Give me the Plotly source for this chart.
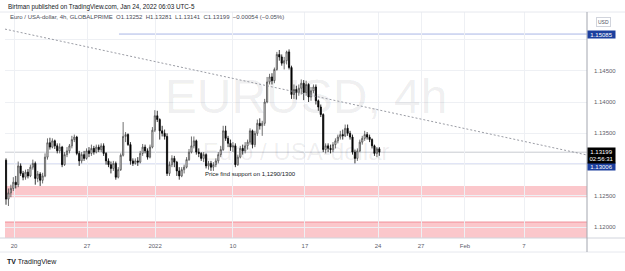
import plotly.graph_objects as go

# ---------------- data (EURUSD 4h, GLOBALPRIME) ----------------
opens = [1.1307,1.1245,1.1255,1.1262,1.1272,1.1268,1.1298,1.1286,1.1280,1.1288,
         1.1282,1.1296,1.1302,1.1278,1.1285,1.1275,1.1282,1.1312,1.1335,1.1328,
         1.1338,1.1330,1.1322,1.1328,1.1300,1.1316,1.1322,1.1330,1.1340,1.1344,
         1.1318,1.1306,1.1316,1.1310,1.1322,1.1318,1.1326,1.1320,1.1328,1.1324,
         1.1330,1.1318,1.1306,1.1300,1.1294,1.1302,1.1280,1.1292,1.1315,1.1345,
         1.1348,1.1332,1.1306,1.1302,1.1306,1.1304,1.1318,1.1328,1.1322,1.1312,
         1.1328,1.1355,1.1378,1.1372,1.1354,1.1350,1.1345,1.1286,1.1300,1.1310,
         1.1304,1.1290,1.1282,1.1292,1.1296,1.1308,1.1320,1.1330,1.1338,1.1320,
         1.1318,1.1310,1.1316,1.1298,1.1302,1.1296,1.1300,1.1306,1.1316,1.1324,
         1.1354,1.1342,1.1334,1.1328,1.1330,1.1300,1.1312,1.1326,1.1322,1.1330,
         1.1336,1.1354,1.1332,1.1350,1.1366,1.1362,1.1366,1.1400,1.1432,1.1440,
         1.1434,1.1452,1.1476,1.1472,1.1462,1.1466,1.1480,1.1455,1.1412,1.1420,
         1.1415,1.1422,1.1430,1.1415,1.1428,1.1408,1.1418,1.1424,1.1402,1.1392,
         1.1380,1.1324,1.1330,1.1326,1.1324,1.1332,1.1338,1.1344,1.1348,1.1346,
         1.1358,1.1350,1.1344,1.1320,1.1310,1.1322,1.1336,1.1342,1.1348,1.1344,
         1.1340,1.1330,1.1318,1.13252]
highs = [1.1310,1.1262,1.1268,1.1280,1.1282,1.1305,1.1302,1.1290,1.1292,1.1293,
         1.1300,1.1308,1.1305,1.1290,1.1288,1.1287,1.1318,1.1342,1.1343,1.1342,
         1.1340,1.1334,1.1334,1.1330,1.1320,1.1328,1.1333,1.1346,1.1348,1.1346,
         1.1322,1.1320,1.1322,1.1326,1.1328,1.1332,1.1330,1.1332,1.1332,1.1334,
         1.1334,1.1320,1.1310,1.1305,1.1306,1.1305,1.1296,1.1318,1.1368,1.1352,
         1.1350,1.1336,1.1310,1.1310,1.1312,1.1322,1.1333,1.1332,1.1326,1.1332,
         1.1360,1.1387,1.1386,1.1374,1.1362,1.1356,1.1350,1.1305,1.1315,1.1314,
         1.1306,1.1296,1.1296,1.1300,1.1312,1.1325,1.1345,1.1345,1.1340,1.1326,
         1.1320,1.1320,1.1318,1.1306,1.1306,1.1304,1.1310,1.1320,1.1330,1.1362,
         1.1362,1.1346,1.1340,1.1336,1.1334,1.1316,1.1330,1.1332,1.1336,1.1340,
         1.1358,1.1356,1.1354,1.1372,1.1374,1.1370,1.1405,1.1440,1.1445,1.1446,
         1.1455,1.1480,1.1483,1.1476,1.1472,1.1482,1.1484,1.1458,1.1428,1.1426,
         1.1428,1.1436,1.1435,1.1434,1.1430,1.1424,1.1428,1.1428,1.1404,1.1396,
         1.1382,1.1334,1.1334,1.1332,1.1336,1.1342,1.1348,1.1354,1.1356,1.1364,
         1.1364,1.1354,1.1348,1.1324,1.1326,1.1340,1.1346,1.1354,1.1352,1.1348,
         1.1342,1.1332,1.1328,1.13281]
lows = [1.1236,1.1234,1.1248,1.1258,1.1262,1.1264,1.1282,1.1275,1.1276,1.1278,
        1.1280,1.1292,1.1268,1.1272,1.1266,1.1270,1.1280,1.1308,1.1324,1.1326,
        1.1325,1.1318,1.1318,1.1296,1.1298,1.1312,1.1318,1.1326,1.1336,1.1315,
        1.1298,1.1302,1.1306,1.1308,1.1312,1.1314,1.1316,1.1318,1.1320,1.1320,
        1.1314,1.1300,1.1296,1.1286,1.1290,1.1276,1.1278,1.1290,1.1313,1.1336,
        1.1330,1.1300,1.1298,1.1300,1.1298,1.1302,1.1314,1.1318,1.1308,1.1310,
        1.1326,1.1352,1.1368,1.1340,1.1345,1.1340,1.1282,1.1282,1.1296,1.1296,
        1.1282,1.1276,1.1280,1.1286,1.1294,1.1306,1.1318,1.1326,1.1316,1.1312,
        1.1306,1.1304,1.1294,1.1292,1.1290,1.1290,1.1296,1.1302,1.1312,1.1322,
        1.1338,1.1328,1.1322,1.1320,1.1296,1.1298,1.1310,1.1316,1.1318,1.1324,
        1.1332,1.1326,1.1328,1.1346,1.1356,1.1346,1.1362,1.1398,1.1428,1.1428,
        1.1430,1.1450,1.1466,1.1458,1.1452,1.1460,1.1452,1.1405,1.1405,1.1404,
        1.1410,1.1412,1.1403,1.1410,1.1400,1.1402,1.1414,1.1396,1.1386,1.1376,
        1.1320,1.1318,1.1320,1.1318,1.1320,1.1326,1.1334,1.1340,1.1340,1.1344,
        1.1346,1.1340,1.1316,1.1302,1.1306,1.1320,1.1332,1.1338,1.1340,1.1336,
        1.1326,1.1314,1.1312,1.13141]
closes = [1.1245,1.1255,1.1262,1.1272,1.1268,1.1298,1.1286,1.1280,1.1288,1.1282,
          1.1296,1.1302,1.1278,1.1285,1.1275,1.1282,1.1312,1.1335,1.1328,1.1338,
          1.1330,1.1322,1.1328,1.1300,1.1316,1.1322,1.1330,1.1340,1.1344,1.1318,
          1.1306,1.1316,1.1310,1.1322,1.1318,1.1326,1.1320,1.1328,1.1324,1.1330,
          1.1318,1.1306,1.1300,1.1294,1.1302,1.1280,1.1292,1.1315,1.1345,1.1348,
          1.1332,1.1306,1.1302,1.1306,1.1304,1.1318,1.1328,1.1322,1.1312,1.1328,
          1.1355,1.1378,1.1372,1.1354,1.1350,1.1345,1.1286,1.1300,1.1310,1.1304,
          1.1290,1.1282,1.1292,1.1296,1.1308,1.1320,1.1330,1.1338,1.1320,1.1318,
          1.1310,1.1316,1.1298,1.1302,1.1296,1.1300,1.1306,1.1316,1.1324,1.1354,
          1.1342,1.1334,1.1328,1.1330,1.1300,1.1312,1.1326,1.1322,1.1330,1.1336,
          1.1354,1.1332,1.1350,1.1366,1.1362,1.1366,1.1400,1.1432,1.1440,1.1434,
          1.1452,1.1476,1.1472,1.1462,1.1466,1.1480,1.1455,1.1412,1.1420,1.1415,
          1.1422,1.1430,1.1415,1.1428,1.1408,1.1418,1.1424,1.1402,1.1392,1.1380,
          1.1324,1.1330,1.1326,1.1324,1.1332,1.1338,1.1344,1.1348,1.1346,1.1358,
          1.1350,1.1344,1.1320,1.1310,1.1322,1.1336,1.1342,1.1348,1.1344,1.1340,
          1.1330,1.1318,1.13252,1.13199]

# date ticks in bar-index units (weekends skipped like TradingView)
tick_pos = [3.3, 33.2, 61.1, 93.0, 122.5, 152.5, 170.1, 188.1, 212.3]
tick_labels = ["20", "27", "2022", "10", "17", "24", "27", "Feb", "7"]

price_ticks = [1.12, 1.125, 1.13, 1.135, 1.14, 1.145, 1.15]
price_tick_labels = ["1.12000", "1.12500", "", "1.13500", "1.14000", "1.14500", ""]

zone_upper = (1.1248, 1.1266)
zone_lower = (1.1150, 1.12085)
level_top = 1.15085
level_support = 1.13006
last_close = 1.13199
trend_start = (-0.41, 1.15164)
trend_end = (238.1, 1.13154)
level_top_start = 46.3
note_pos = (80.7, 1.12851)

x_range = [-0.41, 238.1]
y_range = [1.11829, 1.15437]

FONT = "Liberation Sans, Arial, sans-serif"

bars = list(range(len(closes)))

fig = go.Figure()

# watermark (drawn first so candles sit on top)
fig.add_trace(go.Scatter(
    x=[123.0, 118.9], y=[1.14016, 1.13171], mode="text",
    text=["EURUSD, 4h", "Euro / USA-dollar"],
    textfont=dict(size=[48, 24], color="rgba(19,23,34,0.075)", family=FONT),
    hoverinfo="skip", showlegend=False))

fig.add_trace(go.Candlestick(
    x=bars, open=opens, high=highs, low=lows, close=closes,
    increasing=dict(fillcolor="#ffffff", line=dict(color="#4a4a4a", width=0.8)),
    decreasing=dict(fillcolor="#000000", line=dict(color="#000000", width=0.8)),
    whiskerwidth=0, showlegend=False, hoverinfo="skip"))

shapes = []
pink = "rgba(242,54,69,0.28)"
shapes.append(dict(type="rect", xref="paper", yref="y", x0=0, x1=1,
                   y0=zone_upper[0], y1=zone_upper[1], fillcolor=pink,
                   line=dict(width=0), layer="below"))
shapes.append(dict(type="rect", xref="paper", yref="y", x0=0, x1=1,
                   y0=zone_lower[0], y1=zone_lower[1], fillcolor=pink,
                   line=dict(width=0), layer="below"))
shapes.append(dict(type="line", xref="paper", yref="y", x0=0, x1=1,
                   y0=zone_lower[1], y1=zone_lower[1],
                   line=dict(color="rgba(230,70,85,0.5)", width=1), layer="below"))
shapes.append(dict(type="line", xref="x", yref="y", x0=level_top_start, x1=x_range[1],
                   y0=level_top, y1=level_top,
                   line=dict(color="#a9b7e6", width=1), layer="below"))
shapes.append(dict(type="line", xref="paper", yref="y", x0=0, x1=1,
                   y0=last_close, y1=last_close,
                   line=dict(color="#c9cbd1", width=1), layer="below"))
shapes.append(dict(type="line", xref="paper", yref="y", x0=0, x1=1,
                   y0=level_support, y1=level_support,
                   line=dict(color="#7d8ed6", width=1), layer="below"))
shapes.append(dict(type="line", xref="x", yref="y",
                   x0=trend_start[0], y0=trend_start[1], x1=trend_end[0], y1=trend_end[1],
                   line=dict(color="#8e919a", width=0.9, dash="2px,2px")))

# chart frame
L = -5 / 582
R = 620 / 582
B = -14 / 226
shapes.append(dict(type="line", xref="paper", yref="paper", x0=L, x1=R, y0=0, y1=0,
                   line=dict(color="#d1d4dc", width=1)))
shapes.append(dict(type="line", xref="paper", yref="paper", x0=L, x1=R, y0=B, y1=B,
                   line=dict(color="#e6e8ee", width=1)))
shapes.append(dict(type="line", xref="paper", yref="paper", x0=L, x1=R, y0=1, y1=1,
                   line=dict(color="#e6e8ee", width=1)))
shapes.append(dict(type="line", xref="paper", yref="paper", x0=1, x1=1, y0=B, y1=1,
                   line=dict(color="#a3a6af", width=1)))

ann = []
ann.append(dict(xref="paper", yref="paper", x=1 / 582, y=(238 - 7) / 226,
                xanchor="left", yanchor="middle", showarrow=False,
                text="Birtman published on TradingView.com, Jan 24, 2022 06:03 UTC-5",
                font=dict(size=6.3, color="#131722", family=FONT)))
ann.append(dict(xref="paper", yref="paper", x=3 / 582, y=(238 - 17.5) / 226,
                xanchor="left", yanchor="middle", showarrow=False,
                text="Euro / USA-dollar, 4h, GLOBALPRIME  O1.13252  H1.13281  L1.13141  C1.13199  \u22120.00054 (\u22120.05%)",
                font=dict(size=6, color="#4a4d57", family=FONT)))
ann.append(dict(xref="x", yref="y", x=note_pos[0], y=note_pos[1],
                xanchor="left", yanchor="middle", showarrow=False,
                text="Price find support on 1,1290/1300",
                font=dict(size=6, color="#131722", family=FONT)))
# price-scale labels
ann.append(dict(xref="paper", yref="y", x=1, y=level_top, xanchor="left", yanchor="middle",
                showarrow=False, text="1.15085", bgcolor="#1c3f9e", width=26, borderpad=0.5,
                font=dict(size=6, color="#ffffff", family=FONT)))
ann.append(dict(xref="paper", yref="y", x=1, y=level_support, yshift=-2.5,
                xanchor="left", yanchor="middle",
                showarrow=False, text="1.13006", bgcolor="#1c3f9e", width=26, borderpad=0.5,
                font=dict(size=6, color="#ffffff", family=FONT)))
ann.append(dict(xref="paper", yref="y", x=1, y=last_close, yshift=-3.8,
                xanchor="left", yanchor="middle",
                showarrow=False, text="1.13199<br>02:56:31", bgcolor="#000000", width=26,
                borderpad=0.5, font=dict(size=6, color="#ffffff", family=FONT)))
ann.append(dict(xref="paper", yref="paper", x=(603 - 5) / 582, y=(238 - 22) / 226,
                xanchor="center", yanchor="middle", showarrow=False, text="USD",
                bordercolor="#d1d4dc", borderwidth=1, borderpad=1,
                font=dict(size=5, color="#50535e", family=FONT)))
ann.append(dict(xref="paper", yref="paper", x=0, y=(238 - 262) / 226,
                xanchor="left", yanchor="middle", showarrow=False,
                text="<b>TV</b> TradingView",
                font=dict(size=7, color="#131722", family=FONT)))

fig.update_layout(
    width=625, height=271,
    margin=dict(l=5, r=38, t=12, b=33),
    paper_bgcolor="#ffffff", plot_bgcolor="#ffffff",
    showlegend=False, hovermode=False,
    shapes=shapes, annotations=ann,
    font=dict(family=FONT),
    xaxis=dict(range=x_range, rangeslider=dict(visible=False),
               tickmode="array", tickvals=tick_pos, ticktext=tick_labels,
               tickfont=dict(size=6, color="#5d606b"),
               showgrid=True, gridcolor="#eef0f4", gridwidth=1,
               zeroline=False, showline=False, ticks="", ticklabelstandoff=3),
    yaxis=dict(range=y_range, side="right",
               tickmode="array", tickvals=price_ticks, ticktext=price_tick_labels,
               tickfont=dict(size=6, color="#5d606b"),
               showgrid=True, gridcolor="#eef0f4", gridwidth=1,
               zeroline=False, showline=False, ticks="", ticklabelstandoff=6),
)

fig.write_html("out.html")
